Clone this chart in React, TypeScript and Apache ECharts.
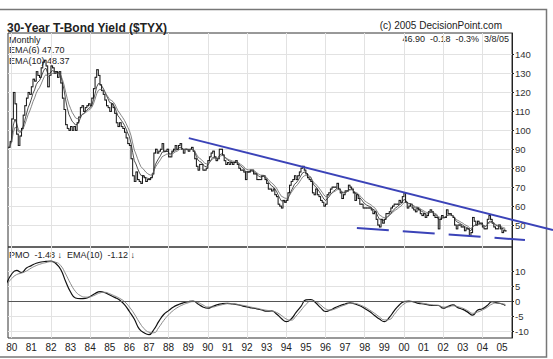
import React, { useEffect, useRef } from "react";
import * as echarts from "echarts";

// ---------- data ----------
// Monthly closes of $TYX (yield x10), Nov 1979 .. Mar 2005
const FIRST_MONTH_T = 1979 + 10 / 12; // Nov 1979
const monthlyClose: number[] = [
  91, 94, // 1979
  106, 120, 114, 98, 92, 97, 101, 108, 113, 117, 120, 119, // 1980
  123, 127, 126, 131, 129, 128, 133, 136, 137, 134, 123, 129, // 1981
  134, 133, 130, 131, 128, 131, 125, 117, 111, 103, 101, 100, // 1982
  102, 100, 102, 100, 104, 107, 112, 113, 110, 112, 113, 114, // 1983
  113, 117, 122, 128, 132, 129, 124, 121, 119, 116, 113, 112, // 1984
  110, 114, 112, 109, 104, 102, 104, 102, 101, 99, 96, 93, // 1985
  92, 85, 76, 73, 78, 74, 73, 72, 76, 75, 73, 74, // 1986
  74, 75, 77, 88, 90, 88, 89, 90, 93, 89, 89, 90, // 1987
  86, 86, 89, 90, 92, 90, 92, 93, 90, 88, 90, 90, // 1988
  89, 90, 91, 89, 85, 81, 79, 82, 82, 79, 79, 80, // 1989
  84, 86, 88, 89, 86, 84, 85, 90, 90, 87, 84, 82, // 1990
  83, 82, 83, 82, 83, 84, 82, 80, 79, 79, 78, 74, // 1991
  78, 78, 79, 79, 77, 77, 74, 74, 74, 76, 76, 74, // 1992
  72, 69, 69, 68, 69, 66, 65, 61, 60, 59, 63, 62, // 1993
  63, 67, 71, 73, 74, 76, 74, 76, 78, 80, 81, 79, // 1994
  77, 75, 74, 73, 67, 66, 69, 66, 65, 63, 62, 60, // 1995
  61, 66, 67, 69, 70, 70, 70, 72, 69, 67, 64, 66, // 1996
  68, 68, 71, 70, 69, 67, 63, 66, 64, 61, 61, 59, // 1997
  59, 59, 59, 59, 58, 56, 57, 53, 50, 49, 53, 51, // 1998
  53, 56, 56, 57, 59, 60, 61, 61, 61, 63, 62, 65, // 1999
  67, 62, 59, 60, 61, 59, 58, 57, 59, 58, 56, 55, // 2000
  56, 54, 55, 57, 58, 57, 55, 54, 54, 48, 53, 55, // 2001
  54, 54, 58, 56, 56, 55, 54, 50, 48, 50, 50, 49, // 2002
  49, 47, 48, 48, 44, 46, 54, 52, 50, 52, 51, 51, // 2003
  49, 48, 48, 53, 55, 53, 51, 49, 48, 48, 50, 48, // 2004
  46, 47, 46.9, // 2005
];

// PMO and its EMA(10), read quarterly from 1979.75, last point = Mar 2005
const PMO_FIRST_T = 1979.75;
const PMO_LAST_T = 2005.17;
const pmoValues: number[] = [
  6.0,
  9.0, 10.2, 9.5, 11.0,
  11.8, 12.6, 13.0, 13.2,
  13.3, 12.5, 10.5, 6.5,
  3.0, 1.0, 0.8, 0.9,
  1.5, 2.5, 3.1, 2.8,
  2.0, 1.2, 0.3, -1.2,
  -3.5, -6.0, -9.3, -10.6,
  -11.2, -9.5, -6.8, -4.5,
  -3.2, -2.0, -1.2, -0.6,
  -0.2, 0.0, -1.0, -2.0,
  -2.4, -1.8, -1.2, -0.9,
  -0.8, -1.0, -1.2, -1.6,
  -2.0, -2.3, -2.6, -3.0,
  -3.4, -3.3, -4.3, -5.8,
  -6.9, -6.0, -3.8, -1.8,
  0.4, 0.5, -0.6, -2.2,
  -3.5, -3.0, -2.2, -1.5,
  -1.0, -0.6, -1.0, -1.6,
  -2.5, -3.5, -4.8, -6.0,
  -6.9, -5.5, -3.3, -1.4,
  -0.2, 0.0, -0.3, -0.8,
  -1.0, -1.3, -1.5, -1.5,
  -2.4, -1.8, -1.3, -2.2,
  -2.8, -3.7, -4.7, -3.1,
  -2.6, -1.5, -0.2, -0.6,
  -1.0,
  -1.48,
];
const pmoSignal: number[] = [
  5.5,
  7.5, 8.8, 9.3, 10.0,
  11.0, 11.8, 12.4, 12.8,
  13.1, 12.9, 11.8, 9.0,
  5.8, 3.2, 1.8, 1.3,
  1.4, 2.0, 2.7, 2.9,
  2.4, 1.7, 0.9, -0.2,
  -2.0, -4.3, -7.0, -9.2,
  -10.4, -10.6, -8.8, -6.5,
  -4.6, -3.1, -2.0, -1.2,
  -0.6, -0.2, -0.5, -1.3,
  -2.0, -2.0, -1.6, -1.2,
  -0.9, -0.9, -1.1, -1.4,
  -1.7, -2.1, -2.4, -2.8,
  -3.1, -3.3, -3.8, -4.8,
  -6.0, -6.4, -5.0, -3.1,
  -1.2, 0.0, -0.2, -1.3,
  -2.6, -3.0, -2.6, -1.9,
  -1.3, -0.8, -0.8, -1.3,
  -2.0, -3.0, -4.1, -5.3,
  -6.3, -6.2, -4.5, -2.5,
  -1.0, -0.3, -0.2, -0.5,
  -0.8, -1.1, -1.3, -1.4,
  -2.0, -2.0, -1.6, -1.9,
  -2.4, -3.2, -4.1, -3.7,
  -3.0, -2.1, -1.0, -0.7,
  -0.9,
  -1.12,
];

// Hand-drawn trend lines (endpoints in [year, value]); they run past the plot's right edge
const resistanceLine: [number, number][] = [[1989.03, 95.9], [2007.6, 47.3]];
const supportLine: [number, number][] = [[1997.6, 48.4], [2006.17, 42.1]];

// Axis ticks
const yearTicks: number[] = [1980, 1981, 1982, 1983, 1984, 1985, 1986, 1987, 1988, 1989, 1990, 1991, 1992,
  1993, 1994, 1995, 1996, 1997, 1998, 1999, 2000, 2001, 2002, 2003, 2004, 2005];
const gridYears: number[] = [1980, 1982, 1984, 1986, 1988, 1990, 1992, 1994, 1996, 1998, 2000, 2002, 2004];
const priceTicks: number[] = [50, 60, 70, 80, 90, 100, 110, 120, 130, 140];
const pmoTicks: number[] = [-10, -5, 0, 5, 10];

// Header texts
const titleText = "30-Year T-Bond Yield ($TYX)";
const sourceText = "(c) 2005 DecisionPoint.com";
const quoteText = "46.90  -0.18  -0.3%  3/8/05";
const legendLines = ["Monthly", "EMA(6) 47.70", "EMA(10) 48.37"];
const pmoLegend = "PMO  -1.48 \u2193  EMA(10)  -1.12 \u2193";

// ---------- helpers ----------
function ema(values: number[], n: number): number[] {
  const k = 2 / (n + 1);
  const out: number[] = [];
  values.forEach((v, i) => {
    out.push(i === 0 ? v : out[i - 1] + k * (v - out[i - 1]));
  });
  return out;
}

const FF = "'Liberation Sans', Arial, 'DejaVu Sans', sans-serif";
const X_MIN = 1979.81;
const X_MAX = 2005.51;
const BLUE = "#3b43b8";

export default function App() {
  const ref = useRef<HTMLDivElement>(null);

  useEffect(() => {
    if (!ref.current) return;
    const chart = echarts.init(ref.current, undefined, { renderer: "svg" });

    const monthT = (i: number) => FIRST_MONTH_T + i / 12;
    const barData = monthlyClose.map((c, i) => {
      const prev = i === 0 ? c : monthlyClose[i - 1];
      return [monthT(i), Math.min(prev, c), Math.max(prev, c), c];
    });
    const ema6 = ema(monthlyClose, 6).map((v, i) => [monthT(i), v]);
    const ema10 = ema(monthlyClose, 10).map((v, i) => [monthT(i), v]);
    const pmoT = (i: number, len: number) => (i === len - 1 ? PMO_LAST_T : PMO_FIRST_T + i * 0.25);
    const pmoData = pmoValues.map((v, i) => [pmoT(i, pmoValues.length), v]);
    const pmoSigData = pmoSignal.map((v, i) => [pmoT(i, pmoSignal.length), v]);

    const gridLineStyle = { color: "#e2e2e2", width: 1 };

    const baseGraphic: any[] = [
      {
        type: "rect", silent: true, z: -10,
        shape: { x: -2, y: 9.5, width: 548.5, height: 347.5 },
        style: { fill: "none", stroke: "#777", lineWidth: 1.5 },
      },
      {
        type: "text", x: 7, y: 27.5, silent: true,
        style: { text: titleText, font: `bold 12px ${FF}`, fill: "#222", textVerticalAlign: "middle" },
      },
      {
        type: "text", x: 502, y: 25.5, silent: true,
        style: { text: sourceText, font: `10px ${FF}`, fill: "#222", textAlign: "right", textVerticalAlign: "middle" },
      },
      {
        type: "text", x: 509, y: 39, silent: true,
        style: { text: quoteText, font: `9px ${FF}`, fill: "#222", textAlign: "right", textVerticalAlign: "middle" },
      },
      ...legendLines.map((t, i) => ({
        type: "text", x: 9, y: 39.5 + i * 10.5, silent: true,
        style: { text: t, font: `9px ${FF}`, fill: "#222", textVerticalAlign: "middle" },
      })),
      {
        type: "text", x: 9, y: 255, silent: true,
        style: { text: pmoLegend, font: `9px ${FF}`, fill: "#222", textVerticalAlign: "middle" },
      },
    ];

    const option: any = {
      animation: false,
      backgroundColor: "#ffffff",
      grid: [
        { left: 8, top: 33, width: 504, height: 214, show: true, borderColor: "#333", borderWidth: 1, backgroundColor: "transparent" },
        { left: 8, top: 247, width: 504, height: 91, show: true, borderColor: "#333", borderWidth: 1, backgroundColor: "transparent" },
      ],
      xAxis: [
        {
          type: "value", gridIndex: 0, min: X_MIN, max: X_MAX,
          axisLine: { show: false },
          axisTick: { show: false, customValues: gridYears },
          axisLabel: { show: false },
          splitLine: { show: true, lineStyle: gridLineStyle },
        },
        {
          type: "value", gridIndex: 1, min: X_MIN, max: X_MAX,
          axisLine: { show: false },
          axisTick: { show: false, customValues: gridYears },
          axisLabel: {
            show: true, customValues: yearTicks, margin: 4,
            fontSize: 10, color: "#222", fontFamily: FF,
            formatter: (v: number) => String(Math.round(v) % 100).padStart(2, "0"),
          },
          splitLine: { show: true, lineStyle: gridLineStyle },
        },
      ],
      yAxis: [
        {
          type: "value", gridIndex: 0, position: "right", min: 38.4, max: 151.4,
          axisLine: { show: true, lineStyle: { color: "#222", width: 1 } },
          axisTick: { show: true, length: 2, customValues: priceTicks, lineStyle: { color: "#222" } },
          axisLabel: { show: true, customValues: priceTicks, margin: 3, fontSize: 9.5, color: "#333", fontFamily: FF },
          splitLine: { show: true, lineStyle: gridLineStyle },
        },
        {
          type: "value", gridIndex: 1, position: "right", min: -12.33, max: 18,
          axisLine: { show: true, lineStyle: { color: "#222", width: 1 } },
          axisTick: { show: true, length: 2, customValues: pmoTicks, lineStyle: { color: "#222" } },
          axisLabel: { show: true, customValues: pmoTicks, margin: 3, fontSize: 9.5, color: "#333", fontFamily: FF },
          splitLine: { show: true, lineStyle: gridLineStyle },
        },
      ],
      series: [
        {
          type: "custom", name: "Monthly", xAxisIndex: 0, yAxisIndex: 0, clip: true,
          data: barData,
          renderItem: (_params: any, api: any) => {
            const x = api.value(0);
            const pLo = api.coord([x, api.value(1)]);
            const pHi = api.coord([x, api.value(2)]);
            const pC = api.coord([x, api.value(3)]);
            const st = { stroke: "#111", lineWidth: 1 };
            return {
              type: "group",
              children: [
                { type: "line", shape: { x1: pLo[0], y1: pLo[1] + 0.5, x2: pHi[0], y2: pHi[1] - 0.5 }, style: st },
                { type: "line", shape: { x1: pC[0], y1: pC[1], x2: pC[0] + 1.5, y2: pC[1] }, style: st },
              ],
            };
          },
        },
        {
          type: "line", name: "EMA(6)", xAxisIndex: 0, yAxisIndex: 0, data: ema6,
          showSymbol: false, smooth: false, lineStyle: { color: "#222", width: 0.8 },
        },
        {
          type: "line", name: "EMA(10)", xAxisIndex: 0, yAxisIndex: 0, data: ema10,
          showSymbol: false, smooth: false, lineStyle: { color: "#666", width: 0.8 },
        },
        {
          type: "line", name: "PMO", xAxisIndex: 1, yAxisIndex: 1, data: pmoData,
          showSymbol: false, smooth: true, lineStyle: { color: "#111", width: 1.2 },
          markLine: {
            silent: true, symbol: "none", label: { show: false },
            lineStyle: { color: "#555", width: 1, type: "solid" },
            data: [{ yAxis: 0 }],
          },
        },
        {
          type: "line", name: "PMO EMA(10)", xAxisIndex: 1, yAxisIndex: 1, data: pmoSigData,
          showSymbol: false, smooth: true, lineStyle: { color: "#888", width: 1 },
        },
      ],
      graphic: baseGraphic,
    };

    chart.setOption(option);

    // Trend lines extend beyond the axis range, so map them through the grid's
    // scale using two in-range reference points and extend linearly.
    const toPx = (p: [number, number]) => {
      const a = chart.convertToPixel({ gridIndex: 0 }, [X_MIN, p[1]]) as number[];
      const b = chart.convertToPixel({ gridIndex: 0 }, [X_MAX, p[1]]) as number[];
      const px = a[0] + ((p[0] - X_MIN) / (X_MAX - X_MIN)) * (b[0] - a[0]);
      return [px, a[1]];
    };
    const trendGraphic = (pts: [number, number][], dash: number[] | null) => {
      const p1 = toPx(pts[0]);
      const p2 = toPx(pts[1]);
      return {
        type: "line", silent: true, z: 50,
        shape: { x1: p1[0], y1: p1[1], x2: p2[0], y2: p2[1] },
        style: { stroke: BLUE, lineWidth: 2, lineDash: dash || undefined },
      };
    };
    chart.setOption({
      graphic: [...baseGraphic, trendGraphic(resistanceLine, null), trendGraphic(supportLine, [32, 14])],
    });

    return () => chart.dispose();
  }, []);

  return (
    <div
      ref={ref}
      style={{ position: "absolute", left: 0, top: 0, width: 553, height: 359, background: "#fff" }}
    />
  );
}
